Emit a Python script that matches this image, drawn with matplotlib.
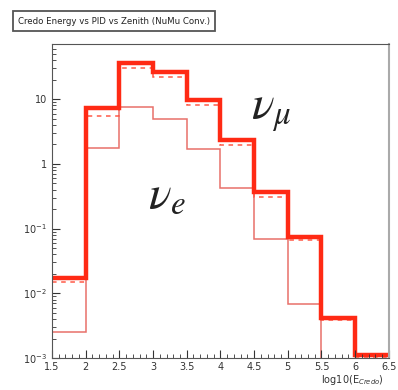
import numpy as np
import matplotlib
matplotlib.use("Agg")
import matplotlib.pyplot as plt
from matplotlib.ticker import FixedLocator, FixedFormatter, LogLocator, MultipleLocator, NullFormatter

# bin edges in log10(E)
edges = [1.5, 2.0, 2.5, 3.0, 3.5, 4.0, 4.5, 5.0, 5.5, 6.0, 6.5]

# total (thick), numu only (dashed), nue (thin)
total = [0.017, 7.2, 36.0, 26.0, 9.7, 2.3, 0.37, 0.074, 0.0042, 0.0011]
numu = [0.015, 5.5, 30.0, 22.0, 8.1, 1.95, 0.31, 0.067, 0.0038, 0.0010]
nue = [0.0025, 1.75, 7.5, 4.9, 1.7, 0.42, 0.069, 0.0068, 0.0, 0.0]

xticks = [1.5, 2, 2.5, 3, 3.5, 4, 4.5, 5, 5.5, 6, 6.5]
xlabels = ["1.5", "2", "2.5", "3", "3.5", "4", "4.5", "5", "5.5", "6", "6.5"]
yticks = [1e-3, 1e-2, 1e-1, 1, 10]
ylabels = ["$10^{-3}$", "$10^{-2}$", "$10^{-1}$", "1", "10"]

fig = plt.figure(figsize=(3.98, 3.90), dpi=100)
ax = fig.add_axes([0.1307, 0.082, 0.8463, 0.805])

ax.stairs(nue, edges, baseline=None, color="#e8706a", lw=1.1)
ax.stairs(numu, edges, baseline=None, color="#ff5a48", lw=1.1, ls=(0, (3, 3)))
ax.stairs(total, edges, baseline=None, color="#ff2a14", lw=3.2)

ax.set_yscale("log")
ax.set_xlim(1.5, 6.5)
ax.set_ylim(1e-3, 71)

ax.xaxis.set_major_locator(FixedLocator(xticks))
ax.xaxis.set_major_formatter(FixedFormatter(xlabels))
ax.xaxis.set_minor_locator(MultipleLocator(0.1))
ax.yaxis.set_major_locator(FixedLocator(yticks))
ax.yaxis.set_major_formatter(FixedFormatter(ylabels))
ax.yaxis.set_minor_locator(LogLocator(base=10, subs=np.arange(2, 10)))
ax.yaxis.set_minor_formatter(NullFormatter())
ax.tick_params(which="both", direction="in", labelsize=7, colors="#333333")
ax.tick_params(which="major", length=6)
ax.tick_params(which="minor", length=3)
ax.tick_params(axis="x", pad=3)

for s in ax.spines.values():
    s.set_color("#555555")
ax.spines["right"].set_color("#aaaaaa")
ax.spines["right"].set_linewidth(1.5)

ax.text(0.65, 0.785, r"$\nu_\mu$", transform=ax.transAxes, fontsize=34,
        color="#222222", ha="center", va="center", math_fontfamily="stix")
ax.text(0.34, 0.52, r"$\nu_e$", transform=ax.transAxes, fontsize=34,
        color="#222222", ha="center", va="center", math_fontfamily="stix")

fig.text(0.965, 0.025, r"log10(E$_{Credo}$)", fontsize=7, ha="right", va="center",
         color="#333333")

fig.text(0.045, 0.946, "Credo Energy vs PID vs Zenith (NuMu Conv.)", fontsize=6.2,
         ha="left", va="center", color="#222222",
         bbox=dict(boxstyle="square,pad=0.6", fc="white", ec="#555555", lw=1.3))

fig.savefig("out.png", dpi=100)
